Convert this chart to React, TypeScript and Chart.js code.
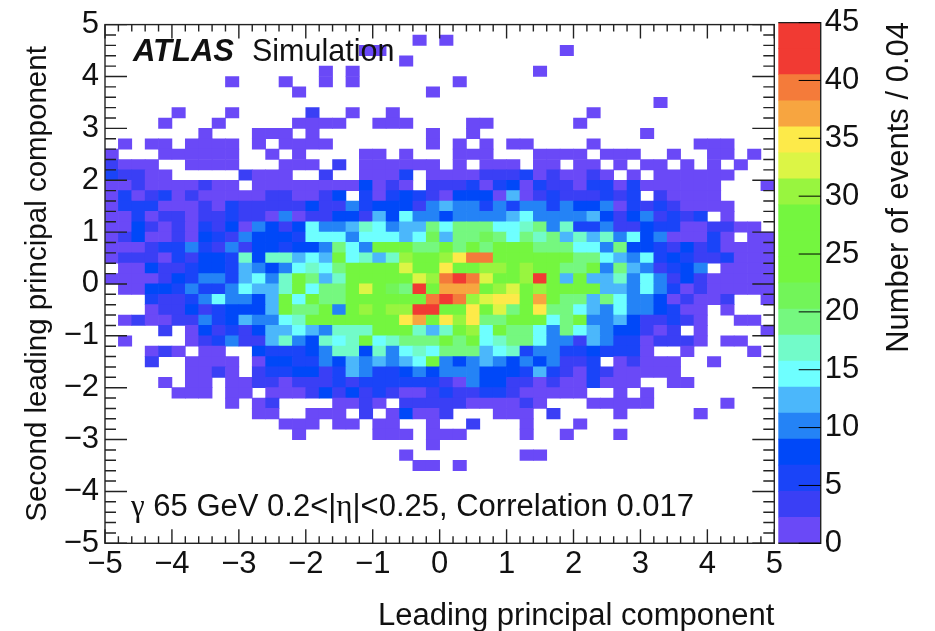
import React, { useEffect, useRef } from "react";
import { Chart, registerables } from "chart.js";

Chart.register(...registerables);

const xTickValues = [-5, -4, -3, -2, -1, 0, 1, 2, 3, 4, 5];
const zTickValues = [0, 5, 10, 15, 20, 25, 30, 35, 40, 45];
const binWidth = 0.2;
const levelWidth = 2.25;
const levelColors = [
  "#6a49f7", "#3a3ff5", "#1a44f8", "#0048f8", "#2483f6", "#4bb7fb", "#6effff", "#72fbc9", "#75f87f", "#72f559",
  "#74f63f", "#74f63f", "#74f63f", "#98f53f", "#dcf545", "#fdea49", "#f7a540", "#f47b3a", "#f13a33", "#f13a33",
];
const xTitle = "Leading principal component";
const yTitle = "Second leading principal component";
const zTitle = "Number of events / 0.04";
const labelBrand = "ATLAS";
const labelKind = "Simulation";

// counts per bin, rows from y = 5 (top) down to y = -5, columns from x = -5 to x = 5
const counts: number[][] = [
  [0,0,0,0,0,0,0,0,0,0, 0,0,0,0,0,0,0,0,0,0, 0,0,0,0,0,0,0,0,0,0, 0,0,0,0,0,0,0,0,0,0, 0,0,0,0,0,0,0,0,0,0],
  [0,0,0,0,0,0,0,0,0,0, 0,0,0,0,0,0,0,0,0,0, 0,0,0,1,0,1,0,0,0,0, 0,0,0,0,0,0,0,0,0,0, 0,0,0,0,0,0,0,0,0,0],
  [0,0,0,0,0,0,0,0,0,0, 0,0,0,0,0,0,0,0,0,1, 1,0,0,0,0,0,0,0,0,0, 0,0,0,0,1,0,0,0,0,0, 0,0,0,0,0,0,0,0,0,0],
  [0,0,0,0,0,0,0,0,0,0, 0,0,0,0,0,0,0,0,0,0, 0,0,1,0,0,0,0,0,0,0, 0,0,0,0,0,0,0,0,0,0, 0,0,0,0,0,0,0,0,0,0],
  [0,0,0,0,0,0,0,0,0,0, 0,0,0,0,0,0,1,0,1,0, 0,0,0,0,0,0,0,0,0,0, 0,0,1,0,0,0,0,0,0,0, 0,0,0,0,0,0,0,0,0,0],
  [0,0,0,0,0,0,0,0,0,1, 0,0,0,1,0,0,1,0,1,0, 0,0,0,0,0,0,1,0,0,0, 0,0,0,0,0,0,0,0,0,0, 0,0,0,0,0,0,0,0,0,0],
  [0,0,0,0,0,0,0,0,0,0, 0,0,0,0,1,0,0,0,0,0, 0,0,0,0,1,0,0,0,0,0, 0,0,0,0,0,0,0,0,0,0, 0,0,0,0,0,0,0,0,0,0],
  [0,0,0,0,0,0,0,0,0,0, 0,0,0,0,0,0,0,0,0,0, 0,0,0,0,0,0,0,0,0,0, 0,0,0,0,0,0,0,0,0,0, 0,1,0,0,0,0,0,0,0,0],
  [0,0,0,0,0,1,0,0,0,1, 0,0,0,0,0,3,0,0,1,0, 0,1,0,0,0,0,0,0,0,0, 0,0,0,0,0,0,1,0,0,0, 0,0,0,0,0,0,0,0,0,0],
  [0,0,0,0,1,0,0,0,1,0, 0,0,0,0,1,1,1,1,0,0, 1,1,1,0,0,0,0,1,1,0, 0,0,0,0,0,1,0,0,0,0, 0,0,0,0,0,0,0,0,0,0],
  [0,0,0,0,0,0,0,1,0,0, 0,1,1,1,0,1,0,0,0,0, 0,0,0,0,1,0,0,1,0,0, 0,0,0,0,0,0,0,0,0,0, 1,0,0,0,0,0,0,0,0,0],
  [0,1,0,1,1,0,1,1,1,1, 0,1,0,1,1,1,1,0,0,0, 0,0,0,0,1,0,1,0,1,0, 1,1,0,0,0,0,1,0,0,0, 0,0,0,0,1,1,1,0,0,0],
  [1,0,0,0,1,1,1,1,1,1, 0,0,1,0,1,0,0,0,0,1, 1,0,1,0,0,0,1,1,1,0, 0,0,1,1,1,1,0,1,1,1, 0,0,1,0,0,1,1,0,1,0],
  [3,1,1,1,0,0,1,1,1,1, 0,0,0,1,1,1,0,3,0,1, 1,1,1,1,1,0,1,0,1,1, 1,0,1,1,0,1,1,0,1,0, 1,1,0,1,0,1,0,1,0,0],
  [5,3,3,1,1,0,0,0,0,0, 3,1,1,1,0,0,3,0,0,1, 1,1,5,0,1,1,1,1,3,3, 3,5,1,3,1,1,3,1,0,1, 0,1,1,1,1,1,1,0,0,0],
  [1,1,3,1,1,1,1,3,1,1, 0,1,1,1,1,1,1,1,1,7, 1,3,1,0,3,3,3,5,1,5, 7,1,5,3,3,1,5,5,1,5, 1,1,1,1,1,1,0,0,0,1],
  [1,5,1,3,5,1,3,1,1,1, 1,1,3,3,1,1,3,7,0,5, 1,5,7,5,3,1,7,7,7,1, 12,1,3,5,3,3,3,5,3,5, 0,3,1,1,1,1,0,0,0,0],
  [1,5,5,5,1,1,1,3,1,5, 3,3,3,3,3,7,3,3,10,5, 7,7,7,3,10,12,10,10,5,10, 5,10,10,5,10,7,7,10,1,5, 3,5,3,1,1,1,1,0,0,0],
  [1,1,5,1,3,3,1,3,3,5, 3,3,1,10,1,3,3,7,7,3, 12,7,14,10,10,7,10,10,10,10, 12,14,10,10,10,10,12,7,3,7, 10,3,5,3,5,0,1,0,0,0],
  [1,1,7,3,1,3,1,5,3,7, 1,10,7,3,7,14,10,10,12,17, 14,10,12,12,19,14,19,19,19,14, 14,17,19,10,17,5,5,10,3,3, 7,5,5,1,1,3,3,1,1,0],
  [1,3,7,1,1,3,1,7,5,3, 10,7,7,7,5,14,14,14,10,14, 14,14,12,14,21,12,19,19,21,19, 14,19,17,19,12,17,12,17,10,14, 7,10,1,1,1,5,1,0,1,1],
  [1,1,1,3,5,5,10,5,3,10, 3,7,7,5,7,7,10,19,14,10, 25,25,25,19,19,25,19,25,19,25, 25,25,19,19,19,14,14,10,19,7, 7,5,3,7,3,5,1,1,1,1],
  [1,3,3,3,1,5,3,7,7,5, 17,7,17,17,12,14,12,25,14,17, 12,17,30,25,25,30,35,39,39,25, 25,25,25,25,25,19,19,14,12,10, 14,5,7,5,3,3,5,1,1,1],
  [0,1,1,7,3,3,5,7,7,5, 12,10,7,10,14,17,14,19,25,25, 25,25,32,25,25,35,25,25,30,30, 25,30,25,25,19,19,25,10,19,12, 10,3,5,7,10,0,1,1,1,1],
  [1,1,1,1,3,7,5,10,10,5, 12,14,10,17,25,19,12,17,25,25, 25,25,25,32,30,39,42,39,32,25, 25,30,42,25,12,25,12,12,17,10, 14,10,3,7,3,1,1,1,1,1],
  [0,1,1,7,7,5,10,5,5,10, 14,12,12,17,25,14,19,19,25,32, 25,21,19,42,25,37,37,37,25,30, 32,25,30,25,25,25,25,12,12,10, 14,10,5,1,3,1,1,1,1,1],
  [0,0,0,5,3,3,5,10,14,10, 10,7,12,25,14,25,19,19,25,25, 25,25,25,25,39,42,39,30,32,35, 35,25,37,25,19,19,12,19,14,10, 10,7,1,3,1,1,3,0,0,1],
  [0,0,0,1,3,3,7,3,5,7, 7,7,12,25,19,19,25,10,25,30, 25,30,30,42,42,25,25,35,25,32, 19,25,35,19,19,14,12,10,14,10, 10,7,5,1,1,0,1,0,0,0],
  [0,1,3,1,1,3,3,10,5,7, 12,10,10,14,17,25,25,25,25,25, 25,25,35,37,25,35,30,35,19,19, 25,25,25,14,19,25,10,10,12,7, 3,3,5,3,1,0,0,1,1,0],
  [0,0,0,0,3,0,1,7,3,5, 3,7,12,12,14,12,10,17,17,17, 25,25,25,17,12,17,25,30,14,25, 19,19,14,10,19,14,12,10,7,7, 3,1,3,0,1,0,0,0,0,1],
  [0,1,0,0,0,0,1,3,5,10, 3,3,12,17,10,7,17,14,17,25, 14,17,19,19,19,25,19,25,14,17, 19,19,14,10,10,3,12,10,5,5, 1,3,3,3,1,0,1,1,0,0],
  [0,0,0,1,3,1,0,1,1,0, 0,7,5,5,5,7,10,17,17,7, 17,10,14,17,14,19,19,19,12,14, 17,5,10,10,5,5,7,5,5,5, 1,0,0,1,0,0,0,0,1,0],
  [0,0,0,3,0,0,1,1,1,1, 0,1,7,7,5,5,10,7,12,10, 12,10,12,14,25,10,7,10,12,10, 7,10,7,10,3,3,5,0,1,3, 1,1,1,0,0,1,0,0,0,0],
  [0,0,0,0,0,0,1,1,3,1, 0,3,5,5,7,7,3,5,12,10, 5,5,7,10,7,10,10,10,7,7, 7,5,12,5,3,1,5,3,1,1, 1,1,1,0,0,0,0,0,0,0],
  [0,0,0,0,1,0,1,1,0,1, 1,3,3,1,3,3,3,5,3,5, 5,5,5,5,5,3,1,10,7,7, 3,3,1,3,1,1,5,1,1,1, 0,0,1,1,0,0,0,0,0,0],
  [0,0,0,0,0,1,1,1,0,1, 1,0,1,1,1,3,7,3,7,3, 5,3,1,1,3,5,3,3,5,5, 3,1,1,1,1,1,0,0,1,0, 1,0,0,0,0,0,0,0,0,0],
  [0,0,0,0,0,0,0,0,0,1, 0,1,3,0,0,0,0,1,1,3, 1,0,3,3,3,3,3,1,1,1, 1,3,1,0,0,0,1,1,1,1, 1,0,0,0,0,0,1,0,0,0],
  [0,0,0,0,0,0,0,0,0,0, 0,1,1,0,0,1,1,1,0,3, 0,1,7,1,1,3,0,0,0,1, 1,1,0,3,0,0,0,0,1,0, 0,0,0,0,1,0,0,0,0,0],
  [0,0,0,0,0,0,0,0,0,0, 0,0,0,1,1,1,0,1,1,0, 1,1,0,0,1,0,0,3,0,0, 0,1,0,0,0,1,0,0,0,0, 0,0,0,0,0,0,0,0,0,0],
  [0,0,0,0,0,0,0,0,0,0, 0,0,0,0,1,0,0,0,0,0, 1,1,1,0,1,1,1,0,0,0, 0,1,0,0,1,0,0,0,1,0, 0,0,0,0,0,0,0,0,0,0],
  [0,0,0,0,0,0,0,0,0,0, 0,0,0,0,0,0,0,0,0,0, 0,0,0,0,1,0,0,0,0,0, 0,0,0,0,0,0,0,0,0,0, 0,0,0,0,0,0,0,0,0,0],
  [0,0,0,0,0,0,0,0,0,0, 0,0,0,0,0,0,0,0,0,0, 0,0,1,0,0,0,0,0,0,0, 0,1,1,0,0,0,0,0,0,0, 0,0,0,0,0,0,0,0,0,0],
  [0,0,0,0,0,0,0,0,0,0, 0,0,0,0,0,0,0,0,0,0, 0,0,0,1,1,0,1,0,0,0, 0,0,0,0,0,0,0,0,0,0, 0,0,0,0,0,0,0,0,0,0],
  [0,0,0,0,0,0,0,0,0,0, 0,0,0,0,0,0,0,0,0,0, 0,0,0,0,0,0,0,0,0,0, 0,0,0,0,0,0,0,0,0,0, 0,0,0,0,0,0,0,0,0,0],
  [0,0,0,0,0,0,0,0,0,0, 0,0,0,0,0,0,0,0,0,0, 0,0,0,0,0,0,0,0,0,0, 0,0,0,0,0,0,0,0,0,0, 0,0,0,0,0,0,0,0,0,0],
  [0,0,0,0,0,0,0,0,0,0, 0,0,0,0,0,0,0,0,0,0, 0,0,0,0,0,0,0,0,0,0, 0,0,0,0,0,0,0,0,0,0, 0,0,0,0,0,0,0,0,0,0],
  [0,0,0,0,0,0,0,0,0,0, 0,0,0,0,0,0,0,0,0,0, 0,0,0,0,0,0,0,0,0,0, 0,0,0,0,0,0,0,0,0,0, 0,0,0,0,0,0,0,0,0,0],
  [0,0,0,0,0,0,0,0,0,0, 0,0,0,0,0,0,0,0,0,0, 0,0,0,0,0,0,0,0,0,0, 0,0,0,0,0,0,0,0,0,0, 0,0,0,0,0,0,0,0,0,0],
  [0,0,0,0,0,0,0,0,0,0, 0,0,0,0,0,0,0,0,0,0, 0,0,0,0,0,0,0,0,0,0, 0,0,0,0,0,0,0,0,0,0, 0,0,0,0,0,0,0,0,0,0],
  [0,0,0,0,0,0,0,0,0,0, 0,0,0,0,0,0,0,0,0,0, 0,0,0,0,0,0,0,0,0,0, 0,0,0,0,0,0,0,0,0,0, 0,0,0,0,0,0,0,0,0,0],
];

const FONT = '"Liberation Sans", Arial, sans-serif';
const INK = "#111111";
const FRAME = { left: 105, right: 774.3, top: 21.7, bottom: 543.3 };
const BAR = { left: 778.3, right: 820.7 };
const W = 935;
const H = 631;
const TICK_SIZE = 31;

const colorOf = (v: number) => levelColors[Math.min(levelColors.length - 1, Math.floor(v / levelWidth))];
const fmt = (v: number) => (v < 0 ? "\u2212" + Math.abs(v) : String(v));

const heatPlugin = {
  id: "heatDecor",
  afterDraw(chart: any) {
    const { ctx, scales } = chart;
    const { x, y } = scales;
    const a = chart.chartArea;
    ctx.save();
    ctx.strokeStyle = "#222222";
    ctx.lineWidth = 1.4;
    ctx.strokeRect(a.left, a.top, a.right - a.left, a.bottom - a.top);
    ctx.beginPath();
    for (let i = 0; i <= 50; i++) {
      const major = i % 5 === 0;
      const vx = x.min + i * binWidth;
      const px = x.getPixelForValue(vx);
      const lx = major ? 14 : 7;
      ctx.moveTo(px, a.bottom);
      ctx.lineTo(px, a.bottom - lx);
      ctx.moveTo(px, a.top);
      ctx.lineTo(px, a.top + lx);
      const vy = y.min + i * binWidth;
      const py = y.getPixelForValue(vy);
      const ly = major ? 22 : 11;
      ctx.moveTo(a.left, py);
      ctx.lineTo(a.left + ly, py);
      ctx.moveTo(a.right, py);
      ctx.lineTo(a.right - ly, py);
    }
    ctx.stroke();

    ctx.fillStyle = INK;
    ctx.textBaseline = "alphabetic";
    ctx.textAlign = "left";
    ctx.font = `italic bold 31px ${FONT}`;
    ctx.fillText(labelBrand, 133, 61);
    ctx.font = `30.5px ${FONT}`;
    ctx.fillText(labelKind, 252, 61);

    let cx = 131;
    const by = 516;
    const parts: [string, string][] = [
      ["\u03b3", "Liberation Serif"],
      [" 65 GeV 0.2<|", "Liberation Sans"],
      ["\u03b7", "Liberation Serif"],
      ["|<0.25, Correlation 0.017", "Liberation Sans"],
    ];
    for (const [t, f] of parts) {
      ctx.font = `31px "${f}"`;
      ctx.fillText(t, cx, by);
      cx += ctx.measureText(t).width;
    }
    ctx.restore();
  },
};

const barPlugin = {
  id: "barDecor",
  afterDraw(chart: any) {
    const { ctx, scales } = chart;
    const z = scales.y;
    const a = chart.chartArea;
    ctx.save();
    ctx.strokeStyle = "#222222";
    ctx.lineWidth = 1.4;
    ctx.beginPath();
    ctx.moveTo(a.left, a.top);
    ctx.lineTo(a.right, a.top);
    ctx.lineTo(a.right, a.bottom);
    ctx.lineTo(a.left, a.bottom);
    ctx.stroke();
    ctx.strokeStyle = "#000000";
    ctx.lineWidth = 1;
    ctx.beginPath();
    for (const v of zTickValues) {
      const p = z.getPixelForValue(v);
      ctx.moveTo(a.right, p);
      ctx.lineTo(a.right - 22, p);
    }
    ctx.stroke();
    ctx.translate(899, 22);
    ctx.rotate(-Math.PI / 2);
    ctx.fillStyle = INK;
    ctx.textAlign = "right";
    ctx.textBaseline = "middle";
    ctx.font = `31px ${FONT}`;
    ctx.fillText(zTitle, 0, 0);
    ctx.restore();
  },
};

export default function App() {
  const mainRef = useRef<HTMLCanvasElement>(null);
  const barRef = useRef<HTMLCanvasElement>(null);

  useEffect(() => {
    document.body.style.margin = "0";
    document.body.style.background = "#ffffff";
    const cells: { x: number; y: [number, number] }[] = [];
    const colors: string[] = [];
    counts.forEach((row, k) =>
      row.forEach((v, i) => {
        if (v > 0) {
          cells.push({
            x: -5 + (i + 0.5) * binWidth,
            y: [5 - (k + 1) * binWidth, 5 - k * binWidth],
          });
          colors.push(colorOf(v));
        }
      })
    );

    const tickFont = { family: FONT, size: TICK_SIZE };
    const main = new Chart(mainRef.current as HTMLCanvasElement, {
      type: "bar",
      data: {
        datasets: [
          {
            data: cells as any,
            backgroundColor: colors,
            borderWidth: 0,
            barPercentage: 1,
            categoryPercentage: 1,
          },
        ],
      },
      options: {
        responsive: false,
        animation: false,
        devicePixelRatio: 1,
        layout: { padding: { left: 0, top: FRAME.top, right: W - FRAME.right, bottom: 0 } },
        plugins: { legend: { display: false }, tooltip: { enabled: false } },
        scales: {
          x: {
            type: "linear",
            offset: false,
            min: -5,
            max: 5,
            grid: { display: false, drawTicks: false },
            border: { display: false },
            afterBuildTicks(s: any) {
              s.ticks = xTickValues.map((value) => ({ value }));
            },
            afterFit(s: any) {
              s.height = H - FRAME.bottom;
            },
            ticks: {
              font: tickFont,
              color: INK,
              padding: 3,
              maxRotation: 0,
              autoSkip: false,
              callback: (v: any) => fmt(Number(v)),
            },
            title: {
              display: true,
              text: xTitle,
              align: "end",
              color: INK,
              font: { family: FONT, size: 31 },
              padding: { top: 0, bottom: -4 },
            },
          },
          y: {
            type: "linear",
            min: -5,
            max: 5,
            grid: { display: false, drawTicks: false },
            border: { display: false },
            afterBuildTicks(s: any) {
              s.ticks = xTickValues.map((value) => ({ value }));
            },
            afterFit(s: any) {
              s.width = FRAME.left;
            },
            ticks: {
              font: tickFont,
              color: INK,
              padding: 6,
              autoSkip: false,
              callback: (v: any) => fmt(Number(v)),
            },
            title: {
              display: true,
              text: yTitle,
              color: INK,
              font: { family: FONT, size: 29.5 },
              padding: { top: 20, bottom: 0 },
            },
          },
        },
      } as any,
      plugins: [heatPlugin],
    });

    const bands = levelColors.map((_, n) => [n * levelWidth, (n + 1) * levelWidth]);
    const bar = new Chart(barRef.current as HTMLCanvasElement, {
      type: "bar",
      data: {
        labels: ["z"],
        datasets: bands.map((b, n) => ({
          data: [b] as any,
          backgroundColor: levelColors[n],
          borderWidth: 0,
          barPercentage: 1,
          categoryPercentage: 1,
          grouped: false,
        })),
      },
      options: {
        responsive: false,
        animation: false,
        devicePixelRatio: 1,
        layout: { padding: { left: BAR.left, top: FRAME.top, right: 0, bottom: H - FRAME.bottom } },
        plugins: { legend: { display: false }, tooltip: { enabled: false } },
        scales: {
          x: { display: false },
          y: {
            position: "right",
            min: 0,
            max: 45,
            grid: { display: false, drawTicks: false },
            border: { display: false },
            afterBuildTicks(s: any) {
              s.ticks = zTickValues.map((value) => ({ value }));
            },
            afterFit(s: any) {
              s.width = W - BAR.right;
            },
            ticks: { font: tickFont, color: INK, padding: 4, autoSkip: false },
          },
        },
      } as any,
      plugins: [barPlugin],
    });

    return () => {
      main.destroy();
      bar.destroy();
    };
  }, []);

  const canvasStyle: React.CSSProperties = { position: "absolute", left: 0, top: 0, width: W, height: H };
  return (
    <div style={{ position: "relative", width: W, height: H, overflow: "hidden" }}>
      <canvas ref={mainRef} width={W} height={H} style={canvasStyle} />
      <canvas ref={barRef} width={W} height={H} style={canvasStyle} />
    </div>
  );
}
